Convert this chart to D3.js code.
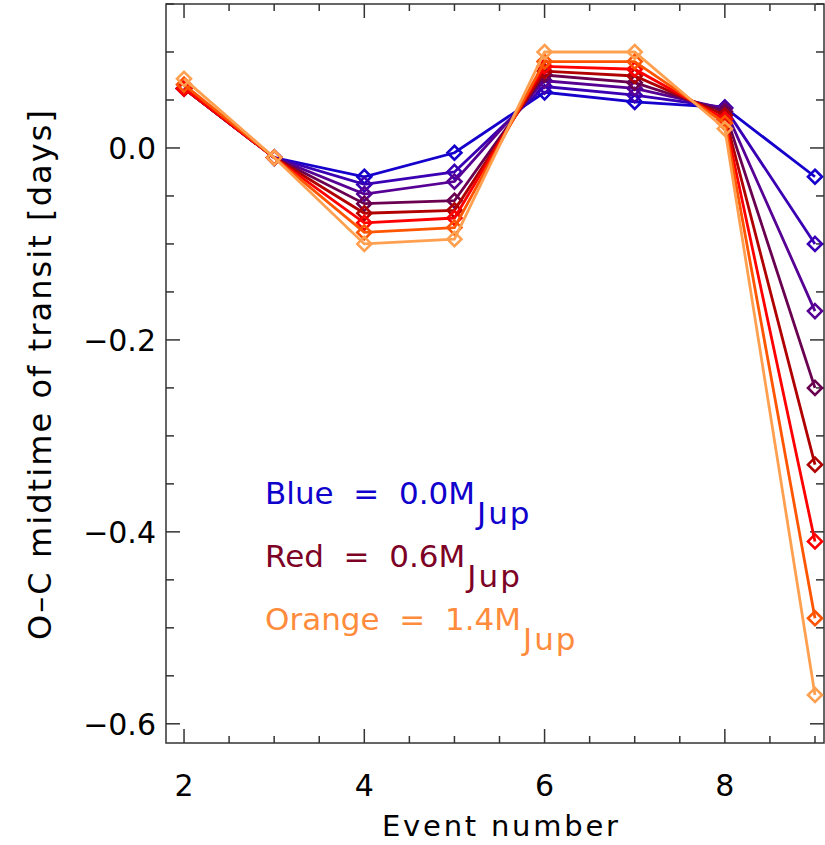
<!DOCTYPE html>
<html>
<head>
<meta charset="utf-8">
<script src="https://cdn.jsdelivr.net/npm/d3@7"></script>
<style>
  body { margin: 0; background: #fff; }
  text { font-family: "DejaVu Sans", sans-serif; }
</style>
</head>
<body>
<svg id="chart" width="825" height="845"></svg>
<script>
// event numbers on the x axis
const events = [2, 3, 4, 5, 6, 7, 8, 9];

// O-C of transit midtime [days], one array per perturber mass (M_Jup)
const oc00 = [0.062, -0.010, -0.030, -0.005, 0.058, 0.048, 0.042, -0.030];
const oc02 = [0.062, -0.010, -0.038, -0.025, 0.064, 0.055, 0.042, -0.100];
const oc04 = [0.062, -0.010, -0.048, -0.035, 0.070, 0.062, 0.041, -0.170];
const oc06 = [0.062, -0.010, -0.058, -0.055, 0.076, 0.068, 0.038, -0.250];
const oc08 = [0.062, -0.010, -0.068, -0.065, 0.080, 0.075, 0.034, -0.330];
const oc10 = [0.062, -0.010, -0.078, -0.073, 0.085, 0.082, 0.030, -0.410];
const oc12 = [0.066, -0.010, -0.088, -0.083, 0.090, 0.090, 0.026, -0.490];
const oc14 = [0.072, -0.010, -0.100, -0.095, 0.100, 0.100, 0.020, -0.570];

const seriesList = [oc00, oc02, oc04, oc06, oc08, oc10, oc12, oc14];
const colors = ["#1500cc", "#3a00b4", "#560094", "#6a0050", "#b00000", "#ff0000", "#ff5500", "#ffa050"];

const xMajor = [2, 4, 6, 8];
const yMajor = [0.0, -0.2, -0.4, -0.6];

const legendItems = [
    { label: "Blue = 0.0M", color: "#1000cc" },
    { label: "Red = 0.6M", color: "#7d0025" },
    { label: "Orange = 1.4M", color: "#ff8c3c" }
];

const svg = d3.select("#chart");
const margin = { top: 4, right: 1, bottom: 102, left: 166 };
const width = 825 - margin.left - margin.right;
const height = 845 - margin.top - margin.bottom;

const x = d3.scaleLinear().domain([1.8, 9.1]).range([0, width]);
const y = d3.scaleLinear().domain([-0.62, 0.15]).range([height, 0]);

const g = svg.append("g").attr("transform", `translate(${margin.left},${margin.top})`);

const axisColor = "#333";
const xMinor = d3.range(2, 9.01, 0.5);
const yMinor = d3.range(-0.6, 0.151, 0.05);

// ticks on all four sides, pointing inward
function ticks() {
    const t = g.append("g").attr("stroke", axisColor).attr("stroke-width", 1.5);
    xMinor.forEach(v => {
        const len = xMajor.some(m => Math.abs(m - v) < 1e-6) ? 14 : 7;
        t.append("line").attr("x1", x(v)).attr("x2", x(v)).attr("y1", height).attr("y2", height - len);
        t.append("line").attr("x1", x(v)).attr("x2", x(v)).attr("y1", 0).attr("y2", len);
    });
    yMinor.forEach(v => {
        const len = yMajor.some(m => Math.abs(m - v) < 1e-6) ? 14 : 8;
        t.append("line").attr("x1", 0).attr("x2", len).attr("y1", y(v)).attr("y2", y(v));
        t.append("line").attr("x1", width).attr("x2", width - len).attr("y1", y(v)).attr("y2", y(v));
    });
    g.append("rect")
        .attr("width", width).attr("height", height)
        .attr("fill", "none").attr("stroke", axisColor).attr("stroke-width", 1.5);
}
ticks();

// tick labels
g.selectAll(".xlab").data(xMajor).enter().append("text")
    .attr("x", d => x(d)).attr("y", height + 53)
    .attr("text-anchor", "middle")
    .style("font-size", "30px")
    .text(d => d);

g.selectAll(".ylab").data(yMajor).enter().append("text")
    .attr("x", -10).attr("y", d => y(d) + 11)
    .attr("text-anchor", "end")
    .style("font-size", "30px")
    .text(d => d3.format(".1f")(d).replace("-", "\u2212"));

// axis titles
svg.append("text")
    .attr("x", 500).attr("y", 836)
    .attr("text-anchor", "middle")
    .attr("textLength", 236).attr("lengthAdjust", "spacing")
    .style("font-size", "29px")
    .text("Event number");

svg.append("text")
    .attr("transform", "translate(51,375) rotate(-90)")
    .attr("text-anchor", "middle")
    .attr("textLength", 530).attr("lengthAdjust", "spacing")
    .style("font-size", "32px")
    .text("O\u2013C midtime of transit [days]");

// lines + diamond markers
const line = d3.line().x((d, i) => x(events[i])).y(d => y(d));
const diamond = "M0,-7L7,0L0,7L-7,0Z";

seriesList.forEach((vals, k) => {
    g.append("path")
        .datum(vals)
        .attr("fill", "none")
        .attr("stroke", colors[k])
        .attr("stroke-width", 2.8)
        .attr("d", line);
    g.selectAll(null).data(vals).enter().append("path")
        .attr("d", diamond)
        .attr("transform", (d, i) => `translate(${x(events[i])},${y(d)})`)
        .attr("fill", "none")
        .attr("stroke", colors[k])
        .attr("stroke-width", 2.6);
});

// legend
legendItems.forEach((item, i) => {
    const t = svg.append("text")
        .attr("x", 265).attr("y", 504 + i * 63)
        .attr("fill", item.color)
        .style("font-size", "31px")
        .attr("xml:space", "preserve")
        .text(item.label.replace(/ = /, "  =  "));
    t.append("tspan").attr("dx", 2).attr("dy", 20)
        .style("letter-spacing", "2px")
        .text("Jup");
});
</script>
</body>
</html>
